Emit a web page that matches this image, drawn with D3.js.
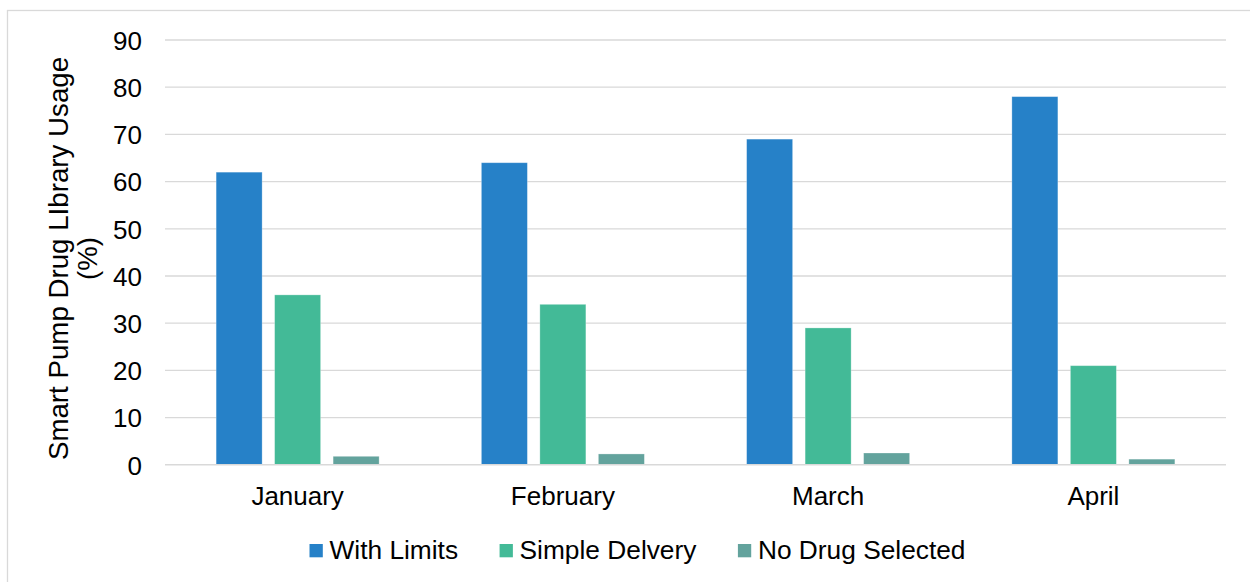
<!DOCTYPE html>
<html>
<head>
<meta charset="utf-8">
<script src="https://cdn.jsdelivr.net/npm/d3@7"></script>
<style>
  html, body { margin: 0; padding: 0; background: #fff; }
  svg { display: block; }
  text { font-family: "Liberation Sans", Arial, sans-serif; fill: #000; }
</style>
</head>
<body>
<svg id="chart" width="1250" height="582"></svg>
<script>
const months = ["January", "February", "March", "April"];
const seriesNames = ["With Limits", "Simple Delvery", "No Drug Selected"];
const withLimits = [62, 64, 69, 78];
const simpleDelivery = [36, 34, 29, 21];
const noDrugSelected = [1.8, 2.3, 2.5, 1.2];
const yTicks = [0, 10, 20, 30, 40, 50, 60, 70, 80, 90];
const colors = ["#2681C8", "#43BA97", "#63A39D"];
const yTitleLines = ["Smart Pump Drug LIbrary Usage", "(%)"];

const seriesValues = [withLimits, simpleDelivery, noDrugSelected];
const data = months.map((m, i) => ({
  month: m,
  values: seriesNames.map((s, k) => ({ series: s, value: seriesValues[k][i], color: colors[k] }))
}));

const svg = d3.select("#chart");
const W = 1250, H = 582;
const plot = { left: 165, right: 1226, top: 40, bottom: 464.8 };

// outer border
svg.append("rect")
  .attr("x", 7.5).attr("y", 10.5)
  .attr("width", W + 10).attr("height", H + 10)
  .attr("fill", "none").attr("stroke", "#D9D9D9").attr("stroke-width", 1.3);

const y = d3.scaleLinear().domain([0, 90]).range([plot.bottom, plot.top]);
const x0 = d3.scaleBand().domain(months).range([plot.left, plot.right]).paddingInner(0).paddingOuter(0);
const x1 = d3.scaleBand().domain(seriesNames).range([0, x0.bandwidth()]).paddingInner(0.2137).paddingOuter(0.874);

// gridlines
svg.append("g").selectAll("line").data(yTicks.filter(t => t !== 0)).join("line")
  .attr("x1", plot.left).attr("x2", plot.right)
  .attr("y1", d => y(d)).attr("y2", d => y(d))
  .attr("stroke", "#D9D9D9").attr("stroke-width", 1.3);

// y tick labels via axis
const yAxis = svg.append("g").attr("transform", `translate(${plot.left},0)`)
  .call(d3.axisLeft(y).tickValues(yTicks).tickSize(0).tickPadding(23));
yAxis.select(".domain").remove();
yAxis.selectAll("text")
  .attr("font-size", 26).attr("font-family", "Liberation Sans, Arial, sans-serif")
  .attr("fill", "#000").attr("dy", "0.36em");

// bars
const groups = svg.append("g").selectAll("g").data(data).join("g")
  .attr("transform", d => `translate(${x0(d.month)},0)`);
groups.selectAll("rect").data(d => d.values).join("rect")
  .attr("x", d => x1(d.series))
  .attr("y", d => y(d.value))
  .attr("width", x1.bandwidth())
  .attr("height", d => y(0) - y(d.value))
  .attr("fill", d => d.color)
  .attr("stroke", "#ffffff").attr("stroke-opacity", 0.35).attr("stroke-width", 0.8);

// x axis line
svg.append("line")
  .attr("x1", plot.left).attr("x2", plot.right)
  .attr("y1", y(0)).attr("y2", y(0))
  .attr("stroke", "#D9D9D9").attr("stroke-width", 1.6);

// x axis labels
const xAxis = svg.append("g").attr("transform", `translate(0,${y(0)})`)
  .call(d3.axisBottom(x0).tickSize(0).tickPadding(0));
xAxis.select(".domain").remove();
xAxis.selectAll("text")
  .attr("font-size", 26).attr("font-family", "Liberation Sans, Arial, sans-serif")
  .attr("fill", "#000").attr("dy", null).attr("y", 40.5);

// y title
const yTitle = svg.append("text")
  .attr("transform", "translate(0,258.5) rotate(-90)")
  .attr("text-anchor", "middle")
  .attr("font-size", 27.7);
yTitle.selectAll("tspan").data(yTitleLines).join("tspan")
  .attr("x", 0)
  .attr("y", (d, i) => i === 0 ? 67.5 : 97)
  .text(d => d);

// legend
const legend = svg.append("g");
let lx = 309.5;
seriesNames.forEach((s, k) => {
  legend.append("rect").attr("x", lx).attr("y", 544).attr("width", 13.3).attr("height", 13.3).attr("fill", colors[k]);
  const t = legend.append("text").attr("x", lx + 20).attr("y", 559.3).attr("font-size", 26.3).text(s);
  const w = t.node().getComputedTextLength();
  lx = lx + 20 + w + 41.5;
});
</script>
</body>
</html>
